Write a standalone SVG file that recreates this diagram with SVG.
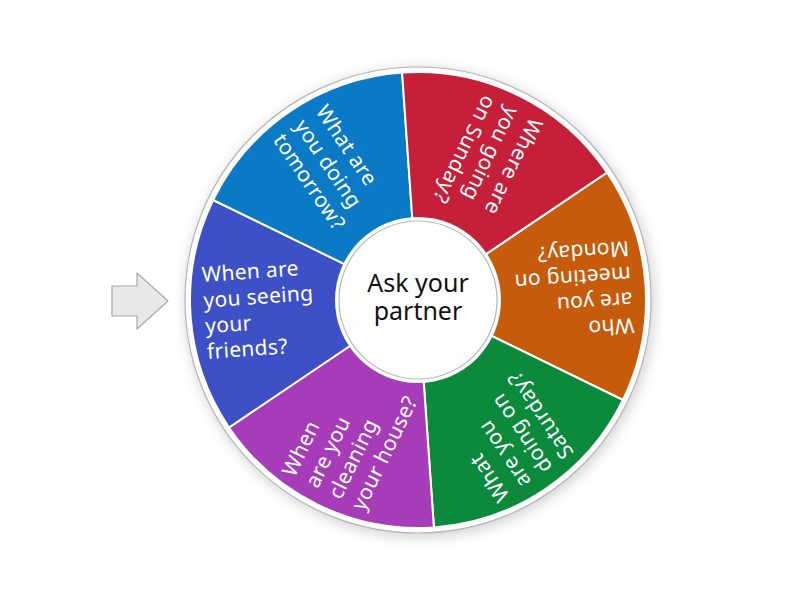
<svg xmlns="http://www.w3.org/2000/svg" width="800" height="600" viewBox="0 0 800 600">
  <defs>
    <filter id="shadow" x="-20%" y="-20%" width="140%" height="140%">
      <feGaussianBlur stdDeviation="7"/>
    </filter>
    <style>
      .seg { stroke: #ffffff; stroke-width: 2; }
      .lbl { font-family: "Noto Sans", "Open Sans", sans-serif; font-size: 21px; letter-spacing: 0.3px; fill: #ffffff; }
      .center { font-family: "Noto Sans", "Open Sans", sans-serif; font-size: 25px; fill: #111111; text-anchor: middle; }
    </style>
  </defs>
  <rect width="800" height="600" fill="#ffffff"/>

  <g id="pointer">
    <polygon points="112,286 137,286 137,273 168,301 137,329 137,316 112,316" fill="#e8e8e8" stroke="#a9a9a9" stroke-width="1.2" stroke-linejoin="round"/>
  </g>

  <g id="rim">
    <circle cx="420" cy="303" r="234" fill="#000000" opacity="0.18" filter="url(#shadow)"/>
    <circle cx="418" cy="300" r="233" fill="#ffffff" stroke="#b5b5b5" stroke-width="1.2"/>
  </g>

  <g id="segment-orange">
    <path class="seg" d="M418,300 L607.0,172.5 A228,228 0 0 1 622.9,400.0 Z" fill="#c65b0b"/>
    <g transform="translate(418,300) rotate(176)">
      <text class="lbl" x="-214" y="-33">Who</text>
      <text class="lbl" x="-214" y="-7.3">are you</text>
      <text class="lbl" x="-214" y="18.4">meeting on</text>
      <text class="lbl" x="-214" y="44.1">Monday?</text>
    </g>
  </g>

  <g id="segment-green">
    <path class="seg" d="M418,300 L622.9,400.0 A228,228 0 0 1 433.9,527.4 Z" fill="#0b8a3b"/>
    <g transform="translate(418,300) rotate(236)">
      <text class="lbl" x="-214" y="-33">What</text>
      <text class="lbl" x="-214" y="-7.3">are you</text>
      <text class="lbl" x="-214" y="18.4">doing on</text>
      <text class="lbl" x="-214" y="44.1">Saturday?</text>
    </g>
  </g>

  <g id="segment-purple">
    <path class="seg" d="M418,300 L433.9,527.4 A228,228 0 0 1 229.0,427.5 Z" fill="#a73cb9"/>
    <g transform="translate(418,300) rotate(296)">
      <text class="lbl" x="-214" y="-33">When</text>
      <text class="lbl" x="-214" y="-7.3">are you</text>
      <text class="lbl" x="-214" y="18.4">cleaning</text>
      <text class="lbl" x="-214" y="44.1">your house?</text>
    </g>
  </g>

  <g id="segment-indigo">
    <path class="seg" d="M418,300 L229.0,427.5 A228,228 0 0 1 213.1,200.0 Z" fill="#3d50c5"/>
    <g transform="translate(418,300) rotate(356)">
      <text class="lbl" x="-214" y="-33">When are</text>
      <text class="lbl" x="-214" y="-7.3">you seeing</text>
      <text class="lbl" x="-214" y="18.4">your</text>
      <text class="lbl" x="-214" y="44.1">friends?</text>
    </g>
  </g>

  <g id="segment-blue">
    <path class="seg" d="M418,300 L213.1,200.0 A228,228 0 0 1 402.1,72.6 Z" fill="#0b7ac6"/>
    <g transform="translate(418,300) rotate(56)">
      <text class="lbl" x="-214" y="-20.2">What are</text>
      <text class="lbl" x="-214" y="5.5">you doing</text>
      <text class="lbl" x="-214" y="31.2">tomorrow?</text>
    </g>
  </g>

  <g id="segment-red">
    <path class="seg" d="M418,300 L402.1,72.6 A228,228 0 0 1 607.0,172.5 Z" fill="#c51f39"/>
    <g transform="translate(418,300) rotate(116)">
      <text class="lbl" x="-214" y="-20.2">Where are</text>
      <text class="lbl" x="-214" y="5.5">you going</text>
      <text class="lbl" x="-214" y="31.2">on Sunday?</text>
    </g>
  </g>

  <g id="hub">
    <circle cx="418" cy="300" r="83" fill="#ffffff"/>
    <circle cx="418" cy="300" r="79" fill="#ffffff" stroke="#b8b8b8" stroke-width="1.2"/>
    <text class="center" x="418" y="292">Ask your</text>
    <text class="center" x="418" y="320">partner</text>
  </g>
</svg>
